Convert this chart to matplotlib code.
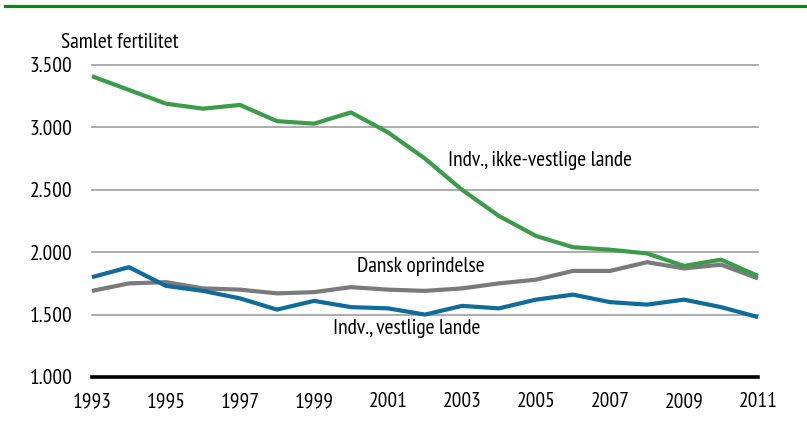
import numpy as np
import matplotlib
matplotlib.use("Agg")
import matplotlib.pyplot as plt
from matplotlib.lines import Line2D
from matplotlib.ticker import FuncFormatter

plt.rcParams['font.family'] = ['PT Sans Narrow', 'DejaVu Sans']

years = list(range(1993, 2012))

# samlet fertilitet pr. 1000 kvinder
ikke_vestlige = [3410, 3300, 3190, 3150, 3180, 3050, 3030, 3120, 2960, 2750,
                 2500, 2290, 2130, 2040, 2020, 1990, 1890, 1940, 1810]
dansk = [1690, 1750, 1760, 1710, 1700, 1670, 1680, 1720, 1700, 1690,
         1710, 1750, 1780, 1850, 1850, 1920, 1870, 1900, 1790]
vestlige = [1800, 1880, 1730, 1690, 1630, 1540, 1610, 1560, 1550, 1500,
            1570, 1550, 1620, 1660, 1600, 1580, 1620, 1560, 1480]

yticks = [1000, 1500, 2000, 2500, 3000, 3500]
xticks = list(range(1993, 2012, 2))

fig = plt.figure(figsize=(8.07, 4.21), dpi=100)
ax = fig.add_axes([92/807, 1-377/421, (758-92)/807, (377-65)/421])

# green rule at the very top
fig.add_artist(Line2D([5/807, 1.0], [1-5.5/421, 1-5.5/421],
                      color='#008a1e', lw=2.3, transform=fig.transFigure))

for v in yticks[1:]:
    ax.axhline(v, color='#a6a6a6', lw=1.3, zorder=1, clip_on=False)

ax.plot(years, dansk, color='#7a7a7a', lw=3, zorder=3, clip_on=False, solid_capstyle='butt')
ax.plot(years, vestlige, color='#0e6b9a', lw=3, zorder=4, clip_on=False, solid_capstyle='butt')
ax.plot(years, ikke_vestlige, color='#3a9c48', lw=3, zorder=5, clip_on=False, solid_capstyle='butt')

ax.set_xlim(1993, 2011)
ax.set_ylim(1000, 3500)
ax.set_yticks(yticks)
ax.set_xticks(xticks)
ax.yaxis.set_major_formatter(FuncFormatter(lambda v, p: f"{v/1000:.3f}"))

for s in ['top', 'right', 'left']:
    ax.spines[s].set_visible(False)
ax.spines['bottom'].set_linewidth(2.6)
ax.spines['bottom'].set_color('black')
ax.tick_params(axis='both', length=0, labelsize=15.5)
ax.tick_params(axis='y', pad=14)
ax.tick_params(axis='x', pad=11)

fs = 15.5
fig.text(61/807, 1-42/421, 'Samlet fertilitet', fontsize=fs, va='center', ha='left')
fig.text(448/807, 1-160/421, 'Indv., ikke-vestlige lande', fontsize=fs, va='center', ha='left')
fig.text(357/807, 1-267/421, 'Dansk oprindelse', fontsize=fs, va='center', ha='left')
fig.text(333/807, 1-328/421, 'Indv., vestlige lande', fontsize=fs, va='center', ha='left')

fig.savefig('out.png', dpi=100)
